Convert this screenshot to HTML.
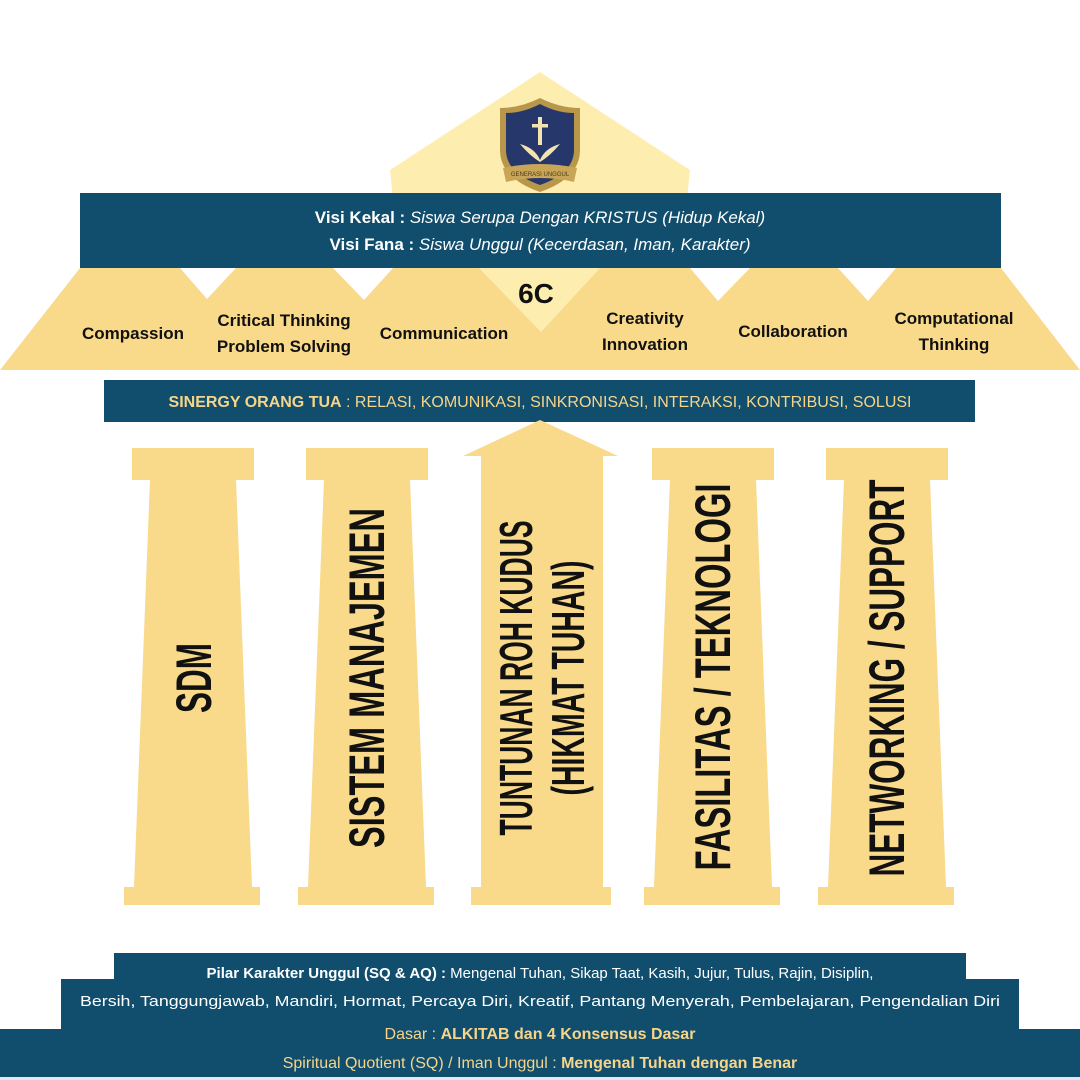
<!DOCTYPE html>
<html><head><meta charset="utf-8"><style>
html,body{margin:0;padding:0;background:#fff;}
svg{display:block;}
text{font-family:"Liberation Sans",sans-serif;}
.c{font-weight:bold;font-size:17px;fill:#111;text-anchor:middle;}
.p{font-family:"Liberation Sans Narrow","Liberation Sans",sans-serif;font-weight:bold;fill:#111;text-anchor:middle;dominant-baseline:central;}
</style></head><body>
<svg width="1080" height="1080" viewBox="0 0 1080 1080" xmlns="http://www.w3.org/2000/svg">
<rect width="1080" height="1080" fill="#fff"/>
<polygon points="540,72 690,170 680,268 400,268 390,170" fill="#fdeeb0"/>
<polygon points="0,370 80,268 1001,268 1080,370" fill="#f9da8b"/>
<polygon points="180,268 236,268 207,299" fill="#fff"/>
<polygon points="333,268 393,268 364,300" fill="#fff"/>
<polygon points="479,268 600,268 541,332" fill="#fdeeb0"/>
<polygon points="690,268 750,268 718,301" fill="#fff"/>
<polygon points="838,268 896,268 868,301" fill="#fff"/>
<rect x="80" y="193" width="921" height="75" fill="#114d6c"/>
<text x="540" y="223" font-size="17" fill="#fff" text-anchor="middle"><tspan font-weight="bold">Visi Kekal : </tspan><tspan font-style="italic">Siswa Serupa Dengan KRISTUS (Hidup Kekal)</tspan></text>
<text x="540" y="250" font-size="17" fill="#fff" text-anchor="middle"><tspan font-weight="bold">Visi Fana : </tspan><tspan font-style="italic">Siswa Unggul (Kecerdasan, Iman, Karakter)</tspan></text>
<g>
<path d="M540,98 Q560,108 580,108 L580,150 Q580,178 540,192 Q500,178 500,150 L500,108 Q520,108 540,98Z" fill="#b8964a"/>
<path d="M540,104 Q557,113 574,113 L574,150 Q574,173 540,185 Q506,173 506,150 L506,113 Q523,113 540,104Z" fill="#26386b"/>
<rect x="538" y="117" width="4" height="28" fill="#f3e3b0"/>
<rect x="532" y="124" width="16" height="3.5" fill="#f3e3b0"/>
<path d="M520,144 Q535,148 540,160 Q545,148 560,144 Q550,156 540,162 Q530,156 520,144Z" fill="#f3e3b0"/>
<path d="M503,168 Q540,160 577,168 L574,182 Q540,174 506,182Z" fill="#c9a558"/>
<text x="540" y="176" font-size="6" fill="#4a3a1a" text-anchor="middle">GENERASI UNGGUL</text>
</g>
<text class="c" x="133" y="339">Compassion</text>
<text class="c" x="284" y="326">Critical Thinking</text>
<text class="c" x="284" y="352">Problem Solving</text>
<text class="c" x="444" y="339">Communication</text>
<text x="536" y="303" font-size="28" font-weight="bold" fill="#111" text-anchor="middle">6C</text>
<text class="c" x="645" y="324">Creativity</text>
<text class="c" x="645" y="350">Innovation</text>
<text class="c" x="793" y="337">Collaboration</text>
<text class="c" x="954" y="324">Computational</text>
<text class="c" x="954" y="350">Thinking</text>
<rect x="104" y="380" width="871" height="42" fill="#114d6c"/>
<text x="540" y="407" font-size="16" fill="#f6d58a" text-anchor="middle"><tspan font-weight="bold">SINERGY ORANG TUA</tspan> : RELASI, KOMUNIKASI, SINKRONISASI, INTERAKSI, KONTRIBUSI, SOLUSI</text>
<g fill="#f9da8b">
<rect x="132" y="448" width="122" height="32"/><polygon points="150,480 236,480 252,887 134,887"/><rect x="124" y="887" width="136" height="18"/>
<rect x="306" y="448" width="122" height="32"/><polygon points="324,480 410,480 426,887 308,887"/><rect x="298" y="887" width="136" height="18"/>
<polygon points="463,456 540,420 618,456"/><polygon points="481,456 603,456 603,887 481,887"/><rect x="471" y="887" width="140" height="18"/>
<rect x="652" y="448" width="122" height="32"/><polygon points="670,480 756,480 772,887 654,887"/><rect x="644" y="887" width="136" height="18"/>
<rect x="826" y="448" width="122" height="32"/><polygon points="844,480 930,480 946,887 828,887"/><rect x="818" y="887" width="136" height="18"/>
</g>
<text class="p" font-size="50" transform="translate(194,678) rotate(-90)" textLength="70" lengthAdjust="spacingAndGlyphs">SDM</text>
<text class="p" font-size="50" transform="translate(367,678) rotate(-90)" textLength="340" lengthAdjust="spacingAndGlyphs">SISTEM MANAJEMEN</text>
<text class="p" font-size="46" transform="translate(516,678) rotate(-90)" textLength="315" lengthAdjust="spacingAndGlyphs">TUNTUNAN ROH KUDUS</text>
<text class="p" font-size="46" transform="translate(568,678) rotate(-90)" textLength="235" lengthAdjust="spacingAndGlyphs">(HIKMAT TUHAN)</text>
<text class="p" font-size="50" transform="translate(713,677) rotate(-90)" textLength="387" lengthAdjust="spacingAndGlyphs">FASILITAS / TEKNOLOGI</text>
<text class="p" font-size="50" transform="translate(887,678) rotate(-90)" textLength="397" lengthAdjust="spacingAndGlyphs">NETWORKING / SUPPORT</text>
<rect x="114" y="953" width="852" height="30" fill="#114d6c"/>
<rect x="61" y="979" width="958" height="52" fill="#114d6c"/>
<rect x="0" y="1029" width="1080" height="51" fill="#114d6c"/>
<rect x="0" y="1077" width="1080" height="3" fill="#dfe9ef"/>
<text x="540" y="978" font-size="15" fill="#fff" text-anchor="middle"><tspan font-weight="bold">Pilar Karakter Unggul (SQ &amp; AQ) :</tspan> Mengenal Tuhan, Sikap Taat, Kasih, Jujur, Tulus, Rajin, Disiplin,</text>
<text x="540" y="1006" font-size="15" fill="#fff" text-anchor="middle" textLength="920" lengthAdjust="spacingAndGlyphs">Bersih, Tanggungjawab, Mandiri, Hormat, Percaya Diri, Kreatif, Pantang Menyerah, Pembelajaran, Pengendalian Diri</text>
<text x="540" y="1039" font-size="16" fill="#f6d58a" text-anchor="middle">Dasar : <tspan font-weight="bold">ALKITAB dan 4 Konsensus Dasar</tspan></text>
<text x="540" y="1068" font-size="16" fill="#f6d58a" text-anchor="middle">Spiritual Quotient (SQ) / Iman Unggul : <tspan font-weight="bold">Mengenal Tuhan dengan Benar</tspan></text>
</svg>
</body></html>
